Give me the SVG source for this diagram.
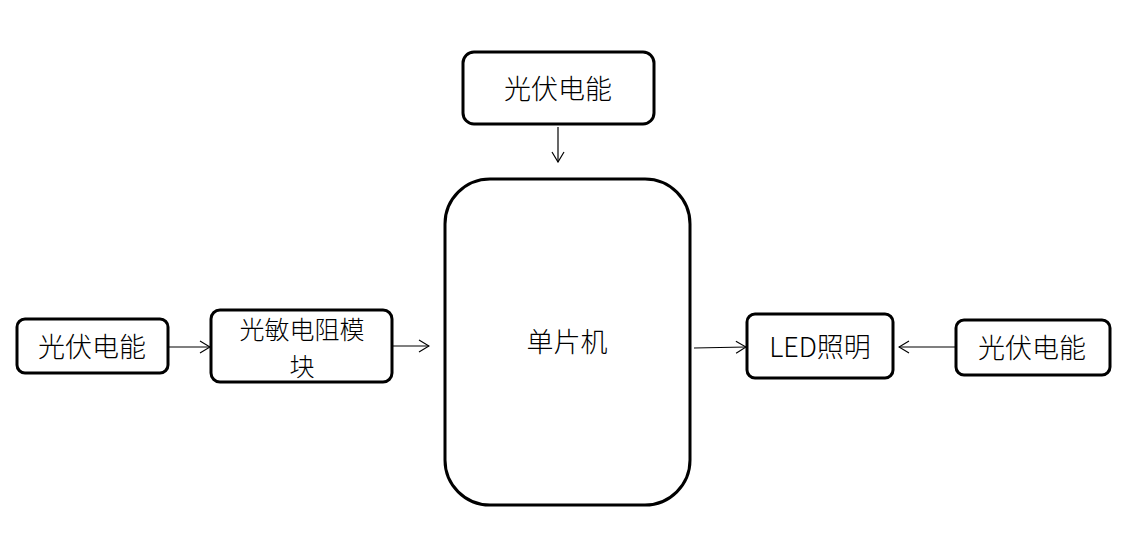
<svg xmlns="http://www.w3.org/2000/svg" width="1128" height="556" viewBox="0 0 1128 556">
<defs>
<style>
.box{fill:#fff;stroke:#000;stroke-width:3}
.t{font-family:"Noto Sans CJK SC","Noto Sans",sans-serif;font-size:27px;font-weight:300;fill:#000;text-anchor:middle;dominant-baseline:central}
.s{font-size:25px}
.c{stroke:#000;stroke-width:1.2;fill:none}
</style>
<marker id="a" markerWidth="12" markerHeight="14" refX="11" refY="7" orient="auto" markerUnits="userSpaceOnUse">
<path d="M1,1 L11,7 L1,13" fill="none" stroke="#000" stroke-width="1.2"/>
</marker>
</defs>
<rect width="1128" height="556" fill="#fff"/>
<g id="pv-top"><rect class="box" x="463" y="52" width="191" height="72" rx="11"/><text class="t" x="558" y="87">光伏电能</text></g>
<g id="mcu"><rect class="box" x="445" y="179" width="245" height="326" rx="45"/><text class="t" x="567" y="340">单片机</text></g>
<g id="pv-left"><rect class="box" x="17" y="319" width="151" height="54" rx="8"/><text class="t" x="92" y="345">光伏电能</text></g>
<g id="ldr"><rect class="box" x="211" y="310" width="181" height="72" rx="9"/><text class="t s" x="302" y="328">光敏电阻模</text><text class="t s" x="302" y="365">块</text></g>
<g id="led"><rect class="box" x="747" y="314" width="146" height="64" rx="8"/><text class="t" x="820" y="345">LED照明</text></g>
<g id="pv-right"><rect class="box" x="956" y="320" width="154" height="55" rx="8"/><text class="t" x="1032" y="346">光伏电能</text></g>
<g id="connectors">
<line class="c" x1="558" y1="127" x2="558" y2="162" marker-end="url(#a)"/>
<line class="c" x1="169" y1="347" x2="210" y2="347" marker-end="url(#a)"/>
<line class="c" x1="393" y1="346" x2="429" y2="346" marker-end="url(#a)"/>
<line class="c" x1="694" y1="348" x2="746" y2="347" marker-end="url(#a)"/>
<line class="c" x1="955" y1="347" x2="899" y2="347" marker-end="url(#a)"/>
</g>
</svg>
